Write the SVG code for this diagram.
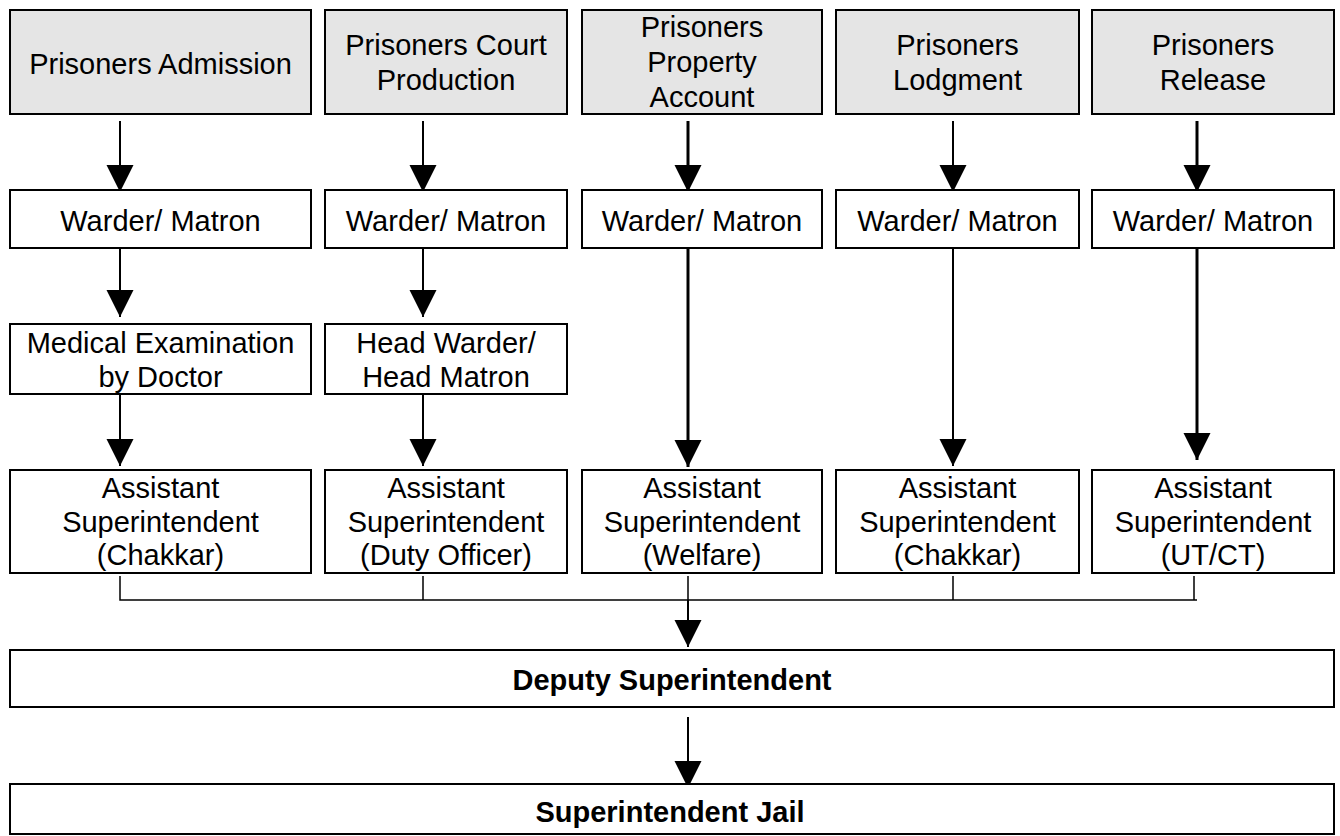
<svg xmlns="http://www.w3.org/2000/svg" width="1340" height="836" viewBox="0 0 1340 836">
<style>
  .box{fill:#ffffff;stroke:#000;stroke-width:2}
  .hdr{fill:#e5e5e5;stroke:#000;stroke-width:2}
  .t{font-family:"Liberation Sans",Arial,sans-serif;font-size:29px;fill:#000;text-anchor:middle}
  .b{font-weight:bold;font-size:29px}
  .ln{stroke:#000;stroke-width:2;fill:none}
  .thk{stroke-width:3}
  .br{stroke:#000;stroke-width:1.5;fill:none}
</style>
<defs>
  <marker id="ah" markerUnits="userSpaceOnUse" markerWidth="27" markerHeight="28" refX="27" refY="13.5" orient="auto" viewBox="0 0 27 27">
    <path d="M0,0 L27,13.5 L0,27 Z" fill="#000"/>
  </marker>
</defs>
<rect width="1340" height="836" fill="#fff"/>

<g id="connectors">
  <line class="ln" x1="120" y1="121" x2="120" y2="192" marker-end="url(#ah)"/>
  <line class="ln" x1="423" y1="121" x2="423" y2="192" marker-end="url(#ah)"/>
  <line class="ln thk" x1="688" y1="121" x2="688" y2="192" marker-end="url(#ah)"/>
  <line class="ln" x1="953" y1="121" x2="953" y2="192" marker-end="url(#ah)"/>
  <line class="ln thk" x1="1197" y1="121" x2="1197" y2="192" marker-end="url(#ah)"/>

  <line class="ln" x1="120" y1="248" x2="120" y2="317" marker-end="url(#ah)"/>
  <line class="ln" x1="423" y1="248" x2="423" y2="317" marker-end="url(#ah)"/>
  <line class="ln" x1="120" y1="394" x2="120" y2="466" marker-end="url(#ah)"/>
  <line class="ln" x1="423" y1="394" x2="423" y2="466" marker-end="url(#ah)"/>
  <line class="ln thk" x1="688" y1="248" x2="688" y2="467" marker-end="url(#ah)"/>
  <line class="ln" x1="953" y1="248" x2="953" y2="466" marker-end="url(#ah)"/>
  <line class="ln thk" x1="1197" y1="248" x2="1197" y2="460" marker-end="url(#ah)"/>

  <path class="br" d="M120,576 V600 H1197 M423,576 V600 M688,576 V600 M953,576 V600 M1194,576 V600"/>
  <line class="ln" x1="688" y1="600" x2="688" y2="647" marker-end="url(#ah)"/>
  <line class="ln" x1="688" y1="717" x2="688" y2="788" marker-end="url(#ah)"/>
</g>

<g id="n-admission"><rect class="hdr" x="10" y="10" width="301" height="104"/><text class="t" x="160.5" y="74">Prisoners Admission</text></g>
<g id="n-court"><rect class="hdr" x="325" y="10" width="242" height="104"/><text class="t" x="446" y="55">Prisoners Court</text><text class="t" x="446" y="90">Production</text></g>
<g id="n-property"><rect class="hdr" x="582" y="10" width="240" height="104"/><text class="t" x="702" y="37">Prisoners</text><text class="t" x="702" y="72">Property</text><text class="t" x="702" y="107">Account</text></g>
<g id="n-lodgment"><rect class="hdr" x="836" y="10" width="243" height="104"/><text class="t" x="957.5" y="55">Prisoners</text><text class="t" x="957.5" y="90">Lodgment</text></g>
<g id="n-release"><rect class="hdr" x="1092" y="10" width="242" height="104"/><text class="t" x="1213" y="55">Prisoners</text><text class="t" x="1213" y="90">Release</text></g>

<g id="n-warder1"><rect class="box" x="10" y="190" width="301" height="58"/><text class="t" x="160.5" y="231">Warder/ Matron</text></g>
<g id="n-warder2"><rect class="box" x="325" y="190" width="242" height="58"/><text class="t" x="446" y="231">Warder/ Matron</text></g>
<g id="n-warder3"><rect class="box" x="582" y="190" width="240" height="58"/><text class="t" x="702" y="231">Warder/ Matron</text></g>
<g id="n-warder4"><rect class="box" x="836" y="190" width="243" height="58"/><text class="t" x="957.5" y="231">Warder/ Matron</text></g>
<g id="n-warder5"><rect class="box" x="1092" y="190" width="242" height="58"/><text class="t" x="1213" y="231">Warder/ Matron</text></g>

<g id="n-medical"><rect class="box" x="10" y="324" width="301" height="70"/><text class="t" x="160.5" y="353">Medical Examination</text><text class="t" x="160.5" y="387">by Doctor</text></g>
<g id="n-headwarder"><rect class="box" x="325" y="324" width="242" height="70"/><text class="t" x="446" y="353">Head Warder/</text><text class="t" x="446" y="387">Head Matron</text></g>

<g id="n-as1"><rect class="box" x="10" y="470" width="301" height="103"/><text class="t" x="160.5" y="498">Assistant</text><text class="t" x="160.5" y="532">Superintendent</text><text class="t" x="160.5" y="565">(Chakkar)</text></g>
<g id="n-as2"><rect class="box" x="325" y="470" width="242" height="103"/><text class="t" x="446" y="498">Assistant</text><text class="t" x="446" y="532">Superintendent</text><text class="t" x="446" y="565">(Duty Officer)</text></g>
<g id="n-as3"><rect class="box" x="582" y="470" width="240" height="103"/><text class="t" x="702" y="498">Assistant</text><text class="t" x="702" y="532">Superintendent</text><text class="t" x="702" y="565">(Welfare)</text></g>
<g id="n-as4"><rect class="box" x="836" y="470" width="243" height="103"/><text class="t" x="957.5" y="498">Assistant</text><text class="t" x="957.5" y="532">Superintendent</text><text class="t" x="957.5" y="565">(Chakkar)</text></g>
<g id="n-as5"><rect class="box" x="1092" y="470" width="242" height="103"/><text class="t" x="1213" y="498">Assistant</text><text class="t" x="1213" y="532">Superintendent</text><text class="t" x="1213" y="565">(UT/CT)</text></g>

<g id="n-deputy"><rect class="box" x="10" y="650" width="1324" height="57"/><text class="t b" x="672" y="690">Deputy Superintendent</text></g>
<g id="n-jail"><rect class="box" x="10" y="784" width="1324" height="50"/><text class="t b" x="670" y="822">Superintendent Jail</text></g>
</svg>
